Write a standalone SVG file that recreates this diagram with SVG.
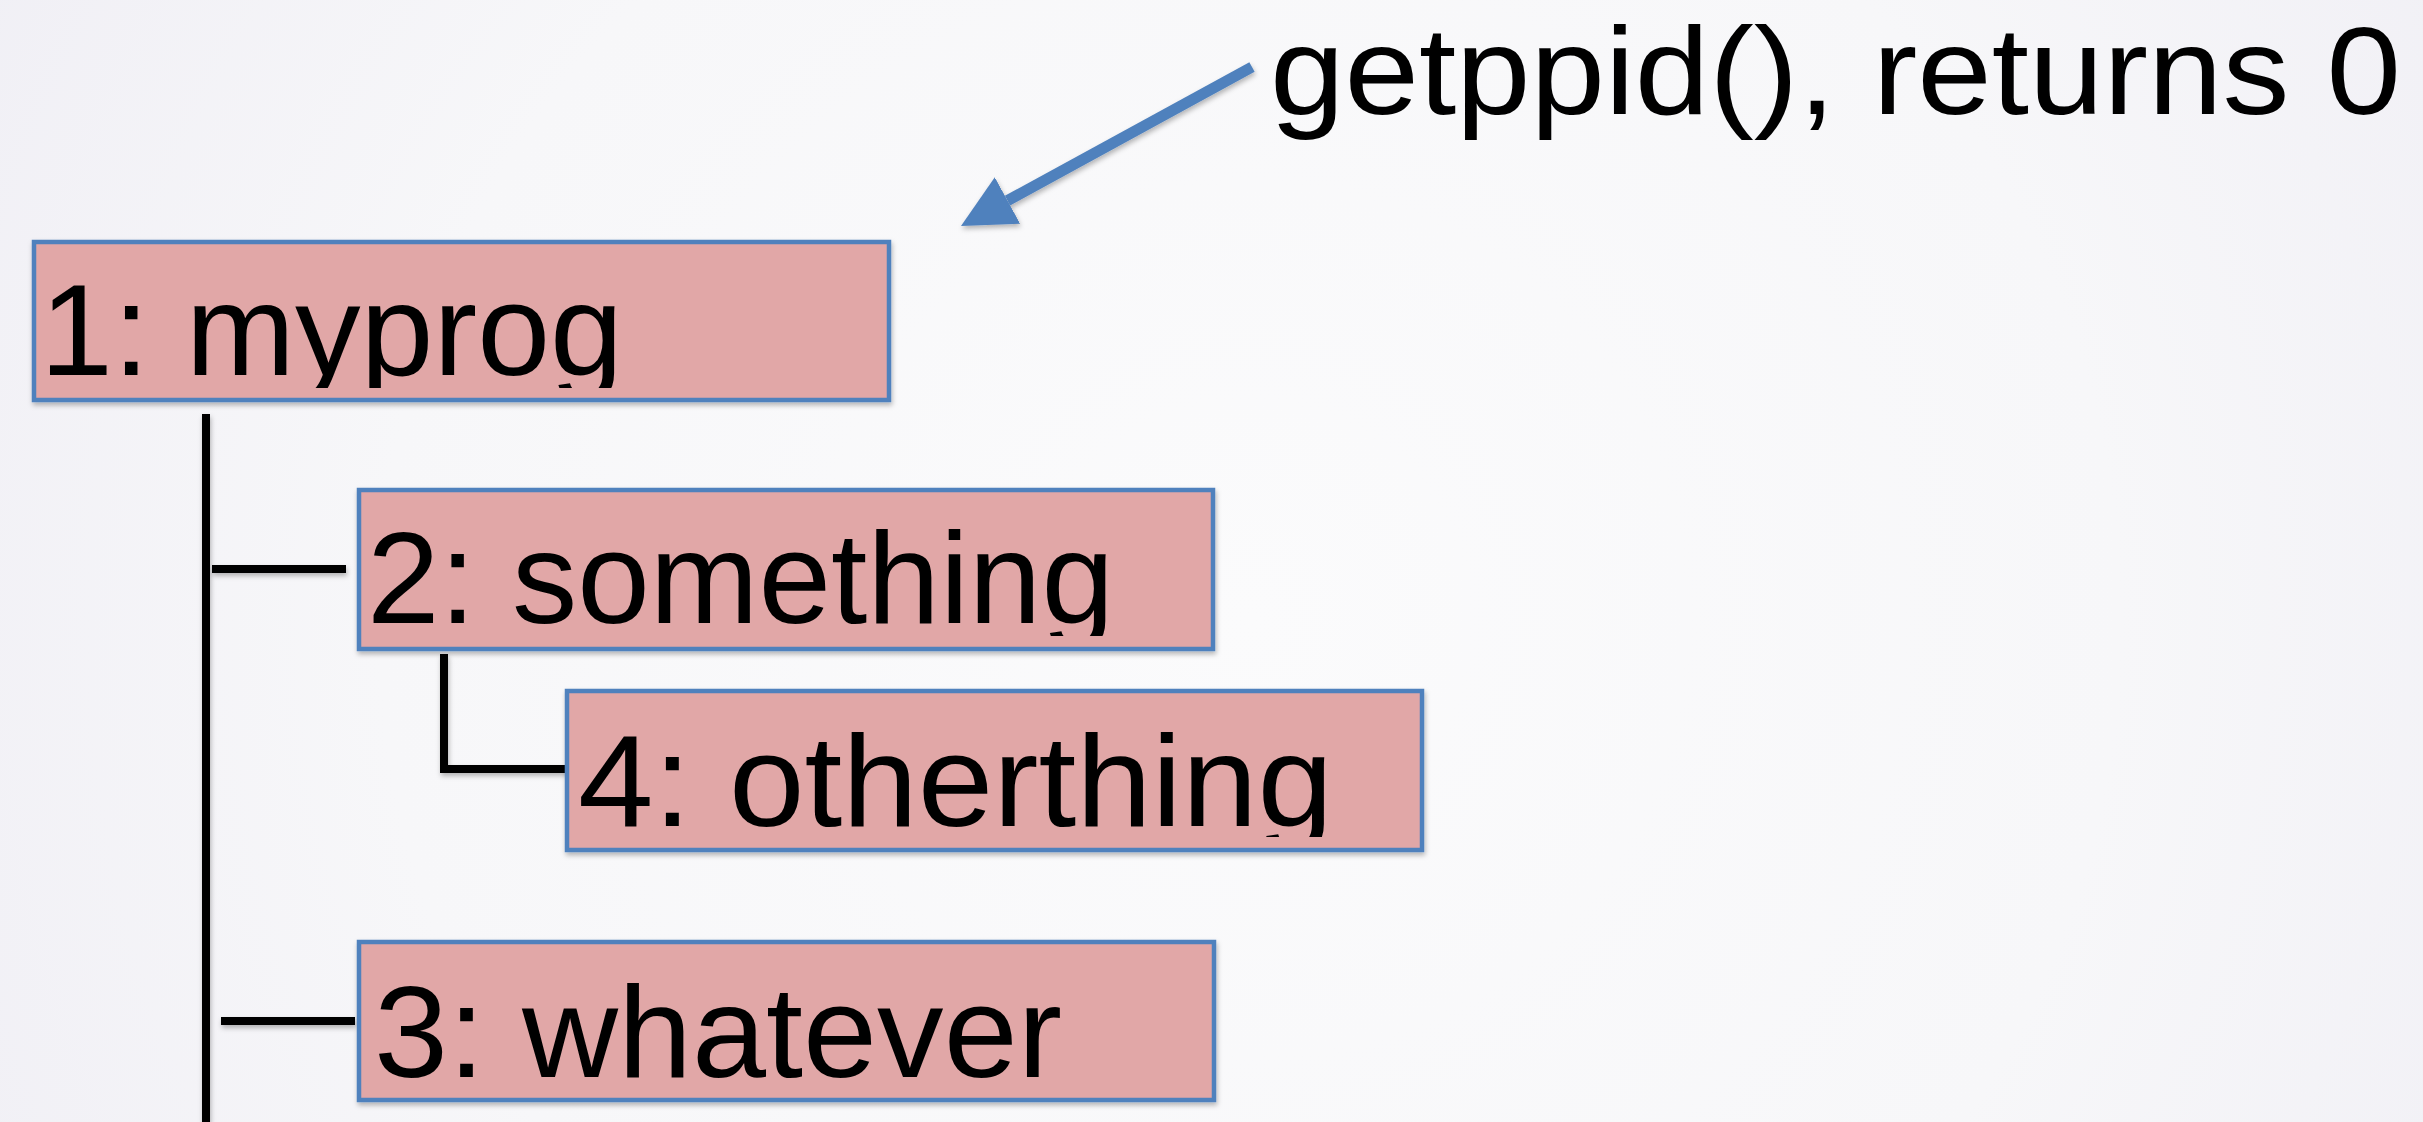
<svg xmlns="http://www.w3.org/2000/svg" width="2423" height="1122" viewBox="0 0 2423 1122">
  <defs>
    <radialGradient id="bg" cx="1250" cy="620" r="1450" gradientUnits="userSpaceOnUse">
      <stop offset="0" stop-color="#fbfbfc"/>
      <stop offset="0.6" stop-color="#f7f7f9"/>
      <stop offset="1" stop-color="#f0eff5"/>
    </radialGradient>
    <filter id="shadow" x="-5%" y="-10%" width="110%" height="130%">
      <feDropShadow dx="1" dy="3" stdDeviation="2.5" flood-color="#000" flood-opacity="0.28"/>
    </filter>
    <marker id="head" markerUnits="userSpaceOnUse" markerWidth="54" markerHeight="54" refX="0" refY="26.5" orient="auto">
      <path d="M0,0 L53,26.5 L0,53 Z" fill="#4f81bd"/>
    </marker>
    <clipPath id="clip1"><rect x="34" y="242" width="855" height="146"/></clipPath>
    <clipPath id="clip2"><rect x="359" y="490" width="854" height="146"/></clipPath>
    <clipPath id="clip4"><rect x="567" y="691" width="855" height="146"/></clipPath>
    <clipPath id="clip3"><rect x="359" y="942" width="855" height="146"/></clipPath>
  </defs>
  <style>
    .box { fill: #e1a7a7; stroke: #4f81bd; stroke-width: 4.5; }
    .label { font-family: "Liberation Sans", Arial, sans-serif; font-size: 129px; fill: #000; }
    .note { font-size: 125px; }
    .link { fill: none; stroke: #000; stroke-width: 8; stroke-linecap: butt; }
    .pointer { fill: none; stroke: #4f81bd; stroke-width: 11; }
  </style>

  <rect x="0" y="0" width="2423" height="1122" fill="url(#bg)"/>

  <!-- tree connectors -->
  <g id="connectors" filter="url(#shadow)">
    <path class="link" d="M206,414 V1122"/>
    <path class="link" d="M212,569 H346"/>
    <path class="link" d="M444,654 V769 H568"/>
    <path class="link" d="M221,1021 H355"/>
    <path class="pointer" d="M1252,67 L1007.5,200.6" marker-end="url(#head)"/>
  </g>

  <g id="node-1" filter="url(#shadow)">
    <rect class="box" x="34" y="242" width="855" height="158"/>
    <text class="label" x="40" y="375" textLength="583" lengthAdjust="spacingAndGlyphs" clip-path="url(#clip1)">1: myprog</text>
  </g>

  <g id="node-2" filter="url(#shadow)">
    <rect class="box" x="359" y="490" width="854" height="159"/>
    <text class="label" x="367" y="623" textLength="747" lengthAdjust="spacingAndGlyphs" clip-path="url(#clip2)">2: something</text>
  </g>

  <g id="node-4" filter="url(#shadow)">
    <rect class="box" x="567" y="691" width="855" height="159"/>
    <text class="label" x="578" y="826" textLength="755" lengthAdjust="spacingAndGlyphs" clip-path="url(#clip4)">4: otherthing</text>
  </g>

  <g id="node-3" filter="url(#shadow)">
    <rect class="box" x="359" y="942" width="855" height="158"/>
    <text class="label" x="374" y="1077" textLength="688" lengthAdjust="spacingAndGlyphs" clip-path="url(#clip3)">3: whatever</text>
  </g>

  <g id="note">
    <text class="label note" x="1270" y="114" textLength="1131" lengthAdjust="spacingAndGlyphs">getppid(), returns 0</text>
  </g>
</svg>
